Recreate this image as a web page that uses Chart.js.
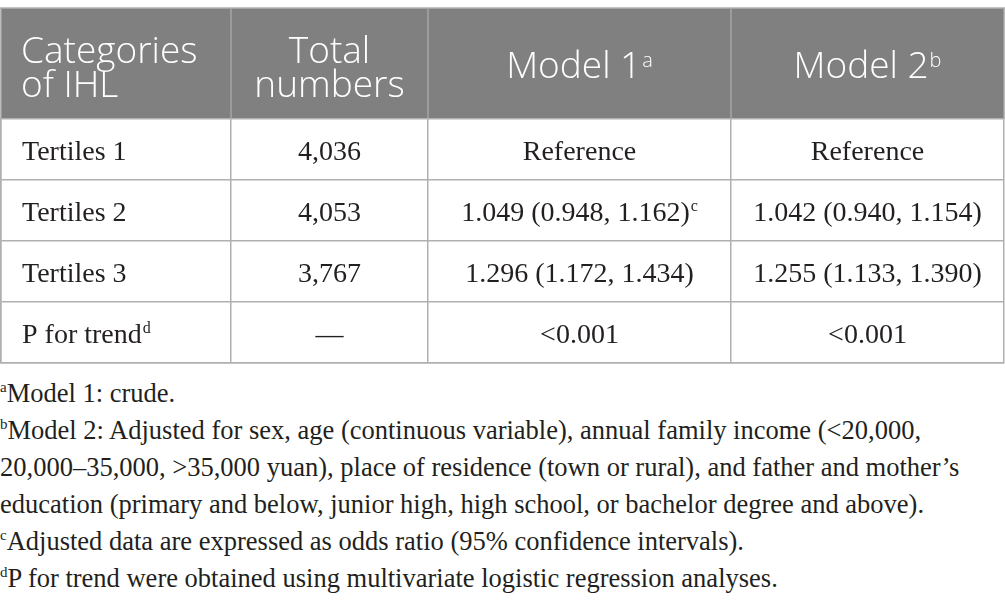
<!DOCTYPE html>
<html>
<head>
<meta charset="utf-8">
<script src="https://cdn.jsdelivr.net/npm/chart.js@4.4.0/dist/chart.umd.min.js"></script>
<style>
  body { margin: 0; background: #fff; width: 1005px; height: 608px; overflow: hidden; }
  #wrap { position: relative; width: 1005px; height: 366px; }
  .notes { position: absolute; left: 0; top: 375px; font-family: "Liberation Serif", serif; font-size: 26.5px; line-height: 37px; color: #231f20; white-space: nowrap; }
  .notes sup { font-size: 15px; vertical-align: 10px; line-height: 0; }
</style>
</head>
<body>
<div id="wrap"><canvas id="tabla" width="1005" height="366"></canvas></div>
<div class="notes">
  <div><sup>a</sup>Model 1: crude.</div>
  <div><sup>b</sup>Model 2: Adjusted for sex, age (continuous variable), annual family income (&lt;20,000,</div>
  <div>20,000–35,000, &gt;35,000 yuan), place of residence (town or rural), and father and mother’s</div>
  <div>education (primary and below, junior high, high school, or bachelor degree and above).</div>
  <div><sup>c</sup>Adjusted data are expressed as odds ratio (95% confidence intervals).</div>
  <div><sup>d</sup>P for trend were obtained using multivariate logistic regression analyses.</div>
</div>
<script>
// datos de la tabla
const categorias = ["Tertiles 1", "Tertiles 2", "Tertiles 3", "P for trend"];
const supCategorias = ["", "", "", "d"];
const totales = [4036, 4053, 3767, null];
const or1 = [null, 1.049, 1.296];
const li1 = [null, 0.948, 1.172];
const ls1 = [null, 1.162, 1.434];
const or2 = [null, 1.042, 1.255];
const li2 = [null, 0.940, 1.133];
const ls2 = [null, 1.154, 1.390];
const pTendencia = ["<0.001", "<0.001"];
const encabezados = [["Categories", "of IHL"], ["Total", "numbers"], ["Model 1"], ["Model 2"]];
const supEncabezados = ["", "", "a", "b"];

// bordes de columnas (estilo)
const bordes = [0, 230, 427, 730, 1003];

function celdaOR(i, or, li, ls) {
  if (i === 0) return "Reference";
  if (i === 3) return null;
  return or[i].toFixed(3) + " (" + li[i].toFixed(3) + ", " + ls[i].toFixed(3) + ")";
}

function filas() {
  return categorias.map((c, i) => [
    { t: c, s: supCategorias[i], izq: true },
    { t: totales[i] === null ? "—" : totales[i].toLocaleString("en-US"), s: "" },
    { t: i === 3 ? pTendencia[0] : celdaOR(i, or1, li1, ls1), s: i === 1 ? "c" : "" },
    { t: i === 3 ? pTendencia[1] : celdaOR(i, or2, li2, ls2), s: "" }
  ]);
}

function textoSup(ctx, t, s, x, y, alin, fuente, fuenteSup, subir) {
  ctx.font = fuente;
  const w1 = ctx.measureText(t).width;
  ctx.font = fuenteSup;
  const w2 = s ? ctx.measureText(s).width + 1 : 0;
  let x0 = alin === "left" ? x : x - (w1 + w2) / 2;
  ctx.textAlign = "left";
  ctx.font = fuente;
  ctx.fillText(t, x0, y);
  if (s) {
    ctx.font = fuenteSup;
    ctx.fillText(s, x0 + w1 + 1, y - subir);
  }
}

const tablaPlugin = {
  id: "tabla",
  beforeDraw(chart) {
    const ctx = chart.ctx;
    const a = chart.chartArea;
    const x = chart.scales.x;
    ctx.save();
    ctx.fillStyle = "#808080";
    ctx.fillRect(a.left, 8, a.right - a.left, a.top - 8);
    ctx.strokeStyle = "#b0b0b0";
    ctx.lineWidth = 1.5;
    ctx.beginPath();
    ctx.moveTo(a.left - 1, 8);
    ctx.lineTo(a.right + 1, 8);
    ctx.stroke();
    ctx.strokeStyle = "#a6a6a6";
    bordes.forEach(b => {
      const px = x.getPixelForValue(b);
      ctx.beginPath();
      ctx.moveTo(px, 8);
      ctx.lineTo(px, a.top);
      ctx.stroke();
    });
    ctx.restore();
  },
  afterDraw(chart) {
    const ctx = chart.ctx;
    const x = chart.scales.x;
    const y = chart.scales.y;
    ctx.save();
    ctx.textBaseline = "alphabetic";
    // encabezado
    ctx.fillStyle = "#ffffff";
    encabezados.forEach((lin, j) => {
      const cx = j === 0 ? x.getPixelForValue(bordes[0]) + 20 : x.getPixelForValue((bordes[j] + bordes[j + 1]) / 2);
      const al = j === 0 ? "left" : "center";
      const bases = lin.length === 2 ? [63, 97] : [78];
      lin.forEach((t, k) => {
        const s = k === lin.length - 1 ? supEncabezados[j] : "";
        textoSup(ctx, t, s, cx, bases[k], al, "300 37px 'Open Sans'", "300 20px 'Open Sans'", 11);
      });
    });
    // cuerpo
    ctx.fillStyle = "#231f20";
    filas().forEach((f, i) => {
      const cy = y.getPixelForValue(i) + 10;
      f.forEach((c, j) => {
        if (c.t === null) return;
        const cx = c.izq ? x.getPixelForValue(bordes[0]) + 21 : x.getPixelForValue((bordes[j] + bordes[j + 1]) / 2);
        textoSup(ctx, c.t, c.s, cx, cy, c.izq ? "left" : "center", "28px 'Liberation Serif'", "16px 'Liberation Serif'", 10);
      });
    });
    ctx.restore();
  }
};

new Chart(document.getElementById("tabla"), {
  type: "scatter",
  data: { datasets: [] },
  options: {
    responsive: false,
    animation: false,
    layout: { padding: { top: 119, left: 1, right: 1, bottom: 3 } },
    plugins: { legend: { display: false }, tooltip: { enabled: false } },
    scales: {
      x: {
        type: "linear", min: bordes[0], max: bordes[bordes.length - 1],
        afterBuildTicks: s => { s.ticks = bordes.map(v => ({ value: v })); },
        ticks: { display: false },
        grid: { color: "#b0b0b0", lineWidth: 1.5, drawTicks: false },
        border: { color: "#b0b0b0", width: 1.5 }
      },
      y: {
        type: "category", labels: categorias, offset: true,
        ticks: { display: false },
        grid: { offset: true, color: "#b0b0b0", lineWidth: 1.5, drawTicks: false },
        border: { color: "#b0b0b0", width: 1.5 }
      }
    }
  },
  plugins: [tablaPlugin]
});
</script>
</body>
</html>
